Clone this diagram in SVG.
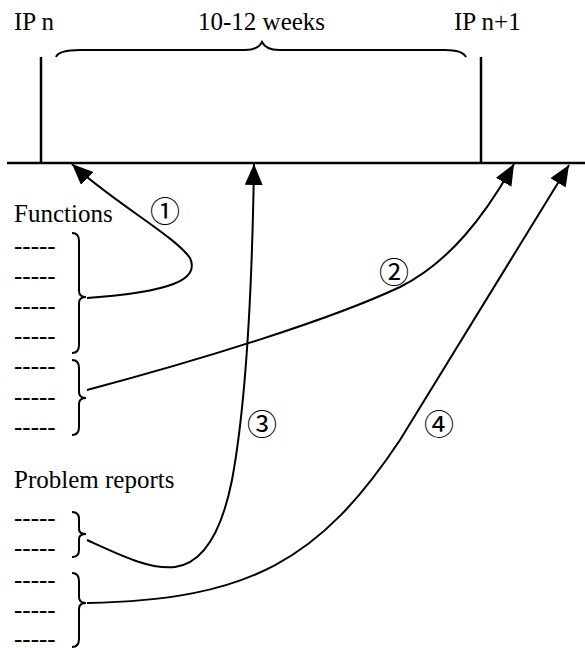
<svg xmlns="http://www.w3.org/2000/svg" width="585" height="648" viewBox="0 0 585 648">
<style>
.t{font-family:"Liberation Serif","Times New Roman",serif;font-size:25px;fill:#000}
.n{font-family:"Noto Sans CJK JP","DejaVu Sans",sans-serif;font-size:30px;fill:#000;text-anchor:middle;dominant-baseline:central}
.ln{fill:none;stroke:#000;stroke-width:2.5}
.br{fill:none;stroke:#000;stroke-width:2}
.ar{fill:none;stroke:#000;stroke-width:2;marker-end:url(#ah)}
</style>
<defs>
<marker id="ah" markerUnits="userSpaceOnUse" markerWidth="22" markerHeight="20" viewBox="0 0 22 20" refX="21" refY="9" orient="auto">
<path d="M0,0 L21,9 L0,18 z" fill="#000"/>
</marker>
</defs>
<rect width="585" height="648" fill="#fff"/>
<g id="timeline">
<line class="ln" x1="7" y1="163" x2="585" y2="163"/>
<line class="ln" x1="41" y1="57" x2="41" y2="163"/>
<line class="ln" x1="481" y1="57" x2="481" y2="163"/>
<path class="br" d="M56,57 C58,52 66,50 80,50 L245,50 C255,50 260,46 262,42 C264,46 269,50 279,50 L445,50 C458,50 464,53 466,57"/>
<text class="t" x="14" y="30">IP n</text>
<text class="t" x="198" y="30">10-12 weeks</text>
<text class="t" x="454" y="30">IP n+1</text>
</g>
<g id="functions">
<text class="t" x="14" y="222">Functions</text>
<text class="t" x="14" y="254">-----</text>
<text class="t" x="14" y="284">-----</text>
<text class="t" x="14" y="314">-----</text>
<text class="t" x="14" y="344">-----</text>
<text class="t" x="14" y="374">-----</text>
<text class="t" x="14" y="405">-----</text>
<text class="t" x="14" y="435">-----</text>
<path class="br" d="M72,233 C77,233 79,236 79,241 L79,291 C79,295 81,297 86,297 C81,297 79,299 79,303 L79,345 C79,350 77,353 72,353"/>
<path class="br" d="M72,360 C77,360 79,363 79,368 L79,392 C79,396 81,398 86,398 C81,398 79,400 79,404 L79,427 C79,432 77,435 72,435"/>
</g>
<g id="problem-reports">
<text class="t" x="14" y="488">Problem reports</text>
<text class="t" x="14" y="526">-----</text>
<text class="t" x="14" y="556">-----</text>
<text class="t" x="14" y="588">-----</text>
<text class="t" x="14" y="618">-----</text>
<text class="t" x="14" y="647">-----</text>
<path class="br" d="M72,512 C77,512 79,515 79,519 L79,529 C79,532 81,534 86,534 C81,534 79,536 79,539 L79,550 C79,554 77,557 72,557"/>
<path class="br" d="M72,573 C77,573 79,576 79,581 L79,597 C79,601 81,603 86,603 C81,603 79,605 79,609 L79,639 C79,644 77,647 72,647"/>
</g>
<g id="connectors">
<path class="ar" d="M87,298 C170,292 200,280 190,258 C175,236 110,200 72,164"/>
<path class="ar" d="M87,390 C200,360 330,320 400,287 C450,262 485,215 514,164"/>
<path class="ar" d="M87,540 C120,555 150,570 175,567 C205,563 222,530 232,480 C245,410 252,300 254,164"/>
<path class="ar" d="M87,603 C250,600 320,560 400,440 L569,165"/>
</g>
<g id="labels">
<text class="n" x="165" y="209">①</text>
<text class="n" x="394" y="270">②</text>
<text class="n" x="262" y="422">③</text>
<text class="n" x="439" y="422">④</text>
</g>
</svg>
